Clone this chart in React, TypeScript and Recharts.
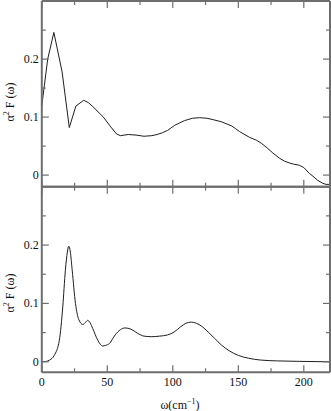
import React from 'react';
import { LineChart, Line, XAxis, YAxis } from 'recharts';

// top panel: alpha^2 F(omega)
const topW = [0, 2, 4.5, 9.2, 15.5, 21, 26, 32, 35.5, 39, 47, 52, 57, 60, 66, 72, 78, 84, 88, 92, 96, 101.5, 109, 115, 120.6, 126, 130, 137, 144.7, 148, 151, 158.6, 164, 167.5, 172, 176.4, 181.5, 185.3, 189, 192, 196.6, 200, 204.2, 207, 210.6, 214.4, 217, 220];
const topV = [0.12, 0.155, 0.2, 0.246, 0.178, 0.082, 0.119, 0.129, 0.125, 0.118, 0.1, 0.085, 0.071, 0.068, 0.07, 0.069, 0.067, 0.068, 0.07, 0.073, 0.077, 0.086, 0.094, 0.098, 0.099, 0.098, 0.096, 0.092, 0.085, 0.08, 0.075, 0.065, 0.06, 0.055, 0.047, 0.038, 0.029, 0.024, 0.021, 0.019, 0.017, 0.013, 0.003, -0.002, -0.009, -0.014, -0.016, -0.016];

// bottom panel
const botW = [0, 3, 6, 9.5, 13.4, 16, 18, 19.5, 20.6, 21.8, 23.2, 25.7, 28.3, 31.3, 33.5, 35.1, 36.8, 38.9, 42.7, 46.5, 48.5, 51.5, 56, 60, 63.5, 68, 73, 78, 84, 90, 96, 101, 106, 110, 114, 118, 122, 127, 132, 137, 143, 150, 158, 167, 180, 195, 210, 220];
const botV = [0, 0.0005, 0.003, 0.011, 0.037, 0.094, 0.157, 0.188, 0.198, 0.188, 0.157, 0.1, 0.072, 0.064, 0.068, 0.071, 0.067, 0.057, 0.037, 0.027, 0.028, 0.031, 0.046, 0.055, 0.058, 0.056, 0.049, 0.044, 0.043, 0.044, 0.046, 0.051, 0.06, 0.066, 0.068, 0.066, 0.061, 0.051, 0.04, 0.029, 0.019, 0.011, 0.006, 0.003, 0.0015, 0.0008, 0.0003, 0];

const xTicks = [0, 25, 50, 75, 100, 125, 150, 175, 200];
const yTicks = [0, 0.05, 0.1, 0.15, 0.2, 0.25];
const xLabelTicks = [0, 50, 100, 150, 200];
const yLabelTicks = [0, 0.1, 0.2];

const topData = topW.map((w, i) => ({ w, v: topV[i] }));
const botData = botW.map((w, i) => ({ w, v: botV[i] }));

const AXIS = '#6e6e6e';
const LINE = '#1e1e1e';
const FONT = '"Liberation Serif", "DejaVu Serif", serif';

const isIn = (arr: number[], v: number) => arr.some((a) => Math.abs(a - v) < 1e-9);

function makeTick(orient: string, showLabel: boolean) {
  return (props: any) => {
    const { x, y, payload } = props;
    const v = payload.value as number;
    const isX = orient === 'top' || orient === 'bottom';
    const major = isX ? isIn(xLabelTicks, v) : isIn(yLabelTicks, v);
    const len = major ? 7 : 4;
    let x2 = x, y2 = y;
    if (orient === 'left') x2 = x + len;
    if (orient === 'right') x2 = x - len;
    if (orient === 'top') y2 = y + len;
    if (orient === 'bottom') y2 = y - len;
    let label: any = null;
    if (showLabel && major) {
      const txt = isX ? String(v) : v === 0 ? '0' : v.toFixed(1);
      if (orient === 'left') {
        label = (
          <text x={x - 3} y={y + 4} textAnchor="end" fontSize={12} fontFamily={FONT} fill="#111">{txt}</text>
        );
      } else if (orient === 'bottom') {
        label = (
          <text x={x} y={y + 14} textAnchor="middle" fontSize={12} fontFamily={FONT} fill="#111">{txt}</text>
        );
      }
    }
    return (
      <g>
        <line x1={x} y1={y} x2={x2} y2={y2} stroke={AXIS} strokeWidth={1.2} />
        {label}
      </g>
    );
  };
}

function Panel({ data, top, height, domain, showX, curve }: any) {
  const plotH = 185.6;
  return (
    <div style={{ position: 'absolute', left: 0, top: 0 }}>
      <LineChart
        width={331}
        height={height}
        data={data}
        margin={{ top: top - 1, right: 0, bottom: height - top - plotH - 1, left: 40.8 }}
      >
        <XAxis
          xAxisId="b"
          dataKey="w"
          type="number"
          domain={[0, 220]}
          ticks={xTicks}
          allowDataOverflow
          orientation="bottom"
          height={1}
          tickSize={0}
          tickMargin={0}
          tickLine={false}
          axisLine={{ stroke: AXIS, strokeWidth: 2 }}
          tick={makeTick('bottom', showX)}
          interval={0}
        />
        <XAxis
          xAxisId="t"
          dataKey="w"
          type="number"
          domain={[0, 220]}
          ticks={xTicks}
          allowDataOverflow
          orientation="top"
          height={1}
          tickSize={0}
          tickMargin={0}
          tickLine={false}
          axisLine={{ stroke: AXIS, strokeWidth: 2 }}
          tick={makeTick('top', false)}
          interval={0}
        />
        <YAxis
          yAxisId="l"
          type="number"
          domain={domain}
          ticks={yTicks}
          allowDataOverflow
          orientation="left"
          width={1}
          tickSize={0}
          tickMargin={0}
          tickLine={false}
          axisLine={{ stroke: AXIS, strokeWidth: 2 }}
          tick={makeTick('left', true)}
          interval={0}
        />
        <YAxis
          yAxisId="r"
          type="number"
          domain={domain}
          ticks={yTicks}
          allowDataOverflow
          orientation="right"
          width={1}
          tickSize={0}
          tickMargin={0}
          tickLine={false}
          axisLine={{ stroke: AXIS, strokeWidth: 2 }}
          tick={makeTick('right', false)}
          interval={0}
        />
        <Line
          xAxisId="b"
          yAxisId="l"
          type={curve}
          dataKey="v"
          stroke={LINE}
          strokeWidth={1}
          dot={false}
          isAnimationActive={false}
        />
      </LineChart>
    </div>
  );
}

export default function App() {
  return (
    <div style={{ position: 'absolute', left: 0, top: 0, width: 331, height: 411, background: '#fff', overflow: 'hidden' }}>
      <Panel data={topData} top={1.1} height={190} domain={[-0.02, 0.3]} showX={false} curve="linear" />
      <Panel data={botData} top={186.7} height={411} domain={[-0.018, 0.3]} showX={true} curve="monotone" />
      <svg width={331} height={411} style={{ position: 'absolute', left: 0, top: 0, pointerEvents: 'none' }}>
        <text transform="translate(14,102) rotate(-90)" textAnchor="middle" fontSize={12} fontFamily={FONT} fill="#111">
          α<tspan dy={-5} fontSize={8}>2</tspan><tspan dy={5}> F (ω)</tspan>
        </text>
        <text transform="translate(14,293) rotate(-90)" textAnchor="middle" fontSize={12} fontFamily={FONT} fill="#111">
          α<tspan dy={-5} fontSize={8}>2</tspan><tspan dy={5}> F (ω)</tspan>
        </text>
        <text x={180} y={409} textAnchor="middle" fontSize={12} fontFamily={FONT} fill="#111">
          ω(cm<tspan dy={-5} fontSize={8}>−1</tspan><tspan dy={5}>)</tspan>
        </text>
      </svg>
    </div>
  );
}
